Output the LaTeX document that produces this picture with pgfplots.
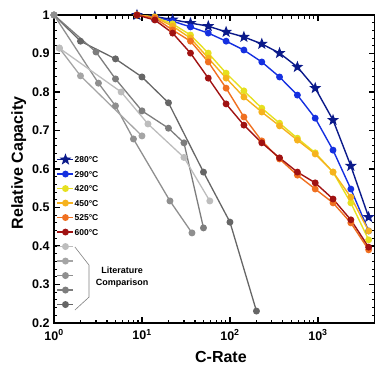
\documentclass[border=0pt]{standalone}
\usepackage{pgfplots}
\pgfplotsset{compat=1.18}
\usepackage{fontspec}
\setmainfont{Liberation Sans}
\usetikzlibrary{plotmarks}
\definecolor{c280}{HTML}{0B1A8A}
\definecolor{c290}{HTML}{1530E0}
\definecolor{c420}{HTML}{E6E020}
\definecolor{c450}{HTML}{F6B21E}
\definecolor{c525}{HTML}{F07020}
\definecolor{c600}{HTML}{A01212}
\definecolor{gD1}{HTML}{666666}
\definecolor{gM1}{HTML}{7D7D7D}
\definecolor{gM2}{HTML}{8F8F8F}
\definecolor{gL2}{HTML}{A5A5A5}
\definecolor{gL1}{HTML}{BDBDBD}
\pgfdeclareplotmark{fstar}{%
  \pgfpathmoveto{\pgfpointpolar{90}{1.45\pgfplotmarksize}}%
  \pgfpathlineto{\pgfpointpolar{126}{0.6\pgfplotmarksize}}%
  \pgfpathlineto{\pgfpointpolar{162}{1.45\pgfplotmarksize}}%
  \pgfpathlineto{\pgfpointpolar{198}{0.6\pgfplotmarksize}}%
  \pgfpathlineto{\pgfpointpolar{234}{1.45\pgfplotmarksize}}%
  \pgfpathlineto{\pgfpointpolar{270}{0.6\pgfplotmarksize}}%
  \pgfpathlineto{\pgfpointpolar{306}{1.45\pgfplotmarksize}}%
  \pgfpathlineto{\pgfpointpolar{342}{0.6\pgfplotmarksize}}%
  \pgfpathlineto{\pgfpointpolar{18}{1.45\pgfplotmarksize}}%
  \pgfpathlineto{\pgfpointpolar{54}{0.6\pgfplotmarksize}}%
  \pgfpathclose\pgfusepathqfillstroke}
\begin{document}
\begin{tikzpicture}
\useasboundingbox (0,0) rectangle (375pt,365pt);
\begin{axis}[
  at={(54pt,42pt)}, anchor=south west,
  width=321pt, height=308pt, scale only axis,
  xmode=log, xmin=1, xmax=4450, ymin=0.2, ymax=1,
  clip=false,
  axis line style={line width=1.8pt},
  xtick={1,10,100,1000},
  xticklabels={10\textsuperscript{0},10\textsuperscript{1},10\textsuperscript{2},10\textsuperscript{3}},
  ytick={0.2,0.3,0.4,0.5,0.6,0.7,0.8,0.9,1},
  yticklabels={0.2,0.3,0.4,0.5,0.6,0.7,0.8,0.9,1},
  minor y tick num=4,
  tick align=inside,
  major tick length=6pt, minor tick length=3.5pt,
  every tick/.style={black, line width=1.4pt},
  every minor tick/.style={black, line width=1.1pt},
  tick label style={font=\bfseries\fontsize{12.5}{12.5}\selectfont},
  xticklabel style={yshift=-3pt},
  yticklabel style={xshift=-1pt},
  xlabel={C-Rate}, ylabel={Relative Capacity},
  xlabel style={font=\bfseries\fontsize{16}{16}\selectfont, at={(axis description cs:0.52,-0.092)}, anchor=north, inner sep=0pt},
  ylabel style={font=\bfseries\fontsize{16}{16}\selectfont, at={(axis description cs:-0.11,0.52)}, anchor=center, inner sep=0pt},
  legend style={at={(rel axis cs:0.008,0.545)}, anchor=north west, draw=none, fill=none,
    font=\bfseries\fontsize{8.5}{8.5}\selectfont, row sep=7.5pt, inner sep=0pt,
    nodes={inner sep=0.5pt, text height=6pt, text depth=0pt}},
  legend cell align=left,
  legend image code/.code={\draw[#1, mark repeat=2, mark phase=2] plot coordinates {(0pt,0pt) (8pt,0pt) (16pt,0pt)};},
]
% literature comparison (grey)
\addplot[gD1, line width=1.3pt, mark=*, mark size=2.8pt, forget plot] coordinates {(1,1) (2,0.932) (5,0.886) (10,0.839) (20,0.772) (50,0.592) (100,0.462) (200,0.231)};
\addplot[gM1, line width=1.3pt, mark=*, mark size=2.8pt, forget plot] coordinates {(1,1) (3,0.904) (5,0.834) (10,0.751) (20,0.706) (30,0.668) (50,0.447)};
\addplot[gM2, line width=1.3pt, mark=*, mark size=2.8pt, forget plot] coordinates {(1,1) (3.2,0.823) (5,0.764) (8,0.678) (20.8,0.517) (37,0.434)};
\addplot[gL2, line width=1.3pt, mark=*, mark size=2.8pt, forget plot] coordinates {(1.15,0.914) (2,0.842) (10,0.686)};
\addplot[gL1, line width=1.3pt, mark=*, mark size=2.8pt, forget plot] coordinates {(1.15,0.914) (5.8,0.8) (11.7,0.717) (30,0.63) (59,0.517)};
% temperatures
\addplot[c280, line width=1.4pt, mark=fstar, mark size=2.9pt] coordinates {(8.77,1.0) (14.0,0.996) (22.3,0.988) (35.6,0.979) (56.7,0.971) (90.4,0.956) (144,0.943) (230,0.925) (366,0.901) (584,0.865) (931,0.81) (1484,0.727) (2365,0.608) (3770,0.475)};
\addlegendentry{280°C}
\addplot[c290, line width=1.4pt, mark=*, mark size=2.7pt] coordinates {(8.77,1.0) (14.0,0.994) (22.3,0.984) (35.6,0.969) (56.7,0.953) (90.4,0.932) (144,0.909) (230,0.878) (366,0.839) (584,0.792) (931,0.732) (1484,0.649) (2365,0.548) (3770,0.439)};
\addlegendentry{290°C}
\addplot[c420, line width=1.4pt, mark=*, mark size=2.7pt] coordinates {(8.77,1.0) (14.0,0.995) (22.3,0.977) (35.6,0.948) (56.7,0.901) (90.4,0.849) (144,0.803) (230,0.758) (366,0.719) (584,0.68) (931,0.642) (1484,0.592) (2365,0.512) (3770,0.416)};
\addlegendentry{420°C}
\addplot[c450, line width=1.4pt, mark=*, mark size=2.7pt] coordinates {(8.77,1.0) (14.0,0.994) (22.3,0.971) (35.6,0.94) (56.7,0.888) (90.4,0.836) (144,0.787) (230,0.748) (366,0.712) (584,0.675) (931,0.639) (1484,0.592) (2365,0.527) (3770,0.439)};
\addlegendentry{450°C}
\addplot[c525, line width=1.4pt, mark=*, mark size=2.7pt] coordinates {(8.77,1.0) (14.0,0.992) (22.3,0.961) (35.6,0.932) (56.7,0.878) (90.4,0.81) (144,0.735) (230,0.673) (366,0.626) (584,0.584) (931,0.548) (1484,0.512) (2365,0.46) (3770,0.39)};
\addlegendentry{525°C}
\addplot[c600, line width=1.4pt, mark=*, mark size=2.7pt] coordinates {(8.77,1.0) (14.0,0.987) (22.3,0.953) (35.6,0.901) (56.7,0.836) (90.4,0.769) (144,0.714) (230,0.668) (366,0.629) (584,0.592) (931,0.564) (1484,0.522) (2365,0.468) (3770,0.397)};
\addlegendentry{600°C}
\addlegendimage{gL1, line width=1.3pt, mark=*, mark size=2.8pt}\addlegendentry{}
\addlegendimage{gL2, line width=1.3pt, mark=*, mark size=2.8pt}\addlegendentry{}
\addlegendimage{gM2, line width=1.3pt, mark=*, mark size=2.8pt}\addlegendentry{}
\addlegendimage{gM1, line width=1.3pt, mark=*, mark size=2.8pt}\addlegendentry{}
\addlegendimage{gD1, line width=1.3pt, mark=*, mark size=2.8pt}\addlegendentry{}
\draw[gray, line width=0.6pt] (rel axis cs:0.065,0.247) -- (rel axis cs:0.109,0.188) -- (rel axis cs:0.109,0.084) -- (rel axis cs:0.065,0.042);
\node[font=\bfseries\fontsize{9}{11.5}\selectfont, align=center] at (rel axis cs:0.212,0.148) {Literature\\Comparison};
\end{axis}
\end{tikzpicture}
\end{document}
